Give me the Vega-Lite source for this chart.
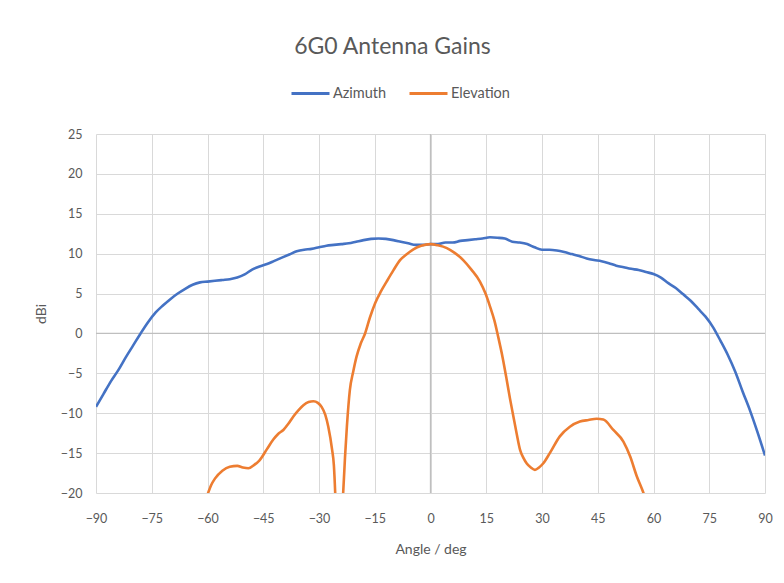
{
  "$schema": "https://vega.github.io/schema/vega-lite/v6.json",
  "width": 669,
  "height": 359,
  "autosize": {"type": "none"},
  "padding": {"left": 96, "top": 134, "right": 19, "bottom": 90},
  "background": "white",
  "config": {
    "font": "Lato",
    "view": {"stroke": null},
    "axisX": {"domain": false, "ticks": false, "labelFlush": false, "labelPadding": 19, "labelFontSize": 12.5, "labelColor": "#595959", "gridColor": "#d9d9d9", "gridWidth": 1, "titleFontSize": 14, "titleFontWeight": "normal", "titleColor": "#595959", "titlePadding": 18},
    "axisY": {"domain": false, "ticks": false, "labelFlush": false, "labelPadding": 14, "labelFontSize": 12.5, "labelColor": "#595959", "gridColor": "#d9d9d9", "gridWidth": 1, "titleFontSize": 14, "titleFontWeight": "normal", "titleColor": "#595959", "titlePadding": 12}
  },
  "title": {"text": "6G0 Antenna Gains", "fontSize": 23, "fontWeight": "normal", "color": "#595959", "dx": -38, "offset": 14, "anchor": "middle"},
  "layer": [
    {
      "data": {"values": [{}]},
      "mark": {"type": "rule", "color": "#bfbfbf", "strokeWidth": 1.3},
      "encoding": {"x": {"datum": 0, "type": "quantitative", "scale": {"domain": [-90, 90], "nice": false, "zero": false},
        "axis": {"values": [-90, -75, -60, -45, -30, -15, 0, 15, 30, 45, 60, 75, 90], "title": "Angle / deg", "grid": true}}}
    },
    {
      "data": {"values": [{}]},
      "mark": {"type": "rule", "color": "#bfbfbf", "strokeWidth": 1.3},
      "encoding": {"y": {"datum": 0, "type": "quantitative", "scale": {"domain": [-20, 25], "nice": false, "zero": false},
        "axis": {"values": [-20, -15, -10, -5, 0, 5, 10, 15, 20, 25], "title": "dBi", "grid": true}}}
    },
    {
      "data": {"values": [
        {"series": "Azimuth", "angle": -90, "gain": -9.2},
        {"series": "Azimuth", "angle": -88, "gain": -7.6},
        {"series": "Azimuth", "angle": -86, "gain": -6.0},
        {"series": "Azimuth", "angle": -84, "gain": -4.6},
        {"series": "Azimuth", "angle": -82, "gain": -3.0},
        {"series": "Azimuth", "angle": -80, "gain": -1.5},
        {"series": "Azimuth", "angle": -78, "gain": 0.0},
        {"series": "Azimuth", "angle": -76, "gain": 1.4},
        {"series": "Azimuth", "angle": -74, "gain": 2.6},
        {"series": "Azimuth", "angle": -72, "gain": 3.5},
        {"series": "Azimuth", "angle": -70, "gain": 4.3},
        {"series": "Azimuth", "angle": -68, "gain": 5.0},
        {"series": "Azimuth", "angle": -66, "gain": 5.6},
        {"series": "Azimuth", "angle": -64, "gain": 6.1},
        {"series": "Azimuth", "angle": -62, "gain": 6.4},
        {"series": "Azimuth", "angle": -60, "gain": 6.5},
        {"series": "Azimuth", "angle": -58, "gain": 6.6},
        {"series": "Azimuth", "angle": -56, "gain": 6.7},
        {"series": "Azimuth", "angle": -54, "gain": 6.8},
        {"series": "Azimuth", "angle": -52, "gain": 7.0},
        {"series": "Azimuth", "angle": -50, "gain": 7.4},
        {"series": "Azimuth", "angle": -48, "gain": 8.0},
        {"series": "Azimuth", "angle": -46, "gain": 8.4},
        {"series": "Azimuth", "angle": -44, "gain": 8.7},
        {"series": "Azimuth", "angle": -42, "gain": 9.1},
        {"series": "Azimuth", "angle": -40, "gain": 9.5},
        {"series": "Azimuth", "angle": -38, "gain": 9.9},
        {"series": "Azimuth", "angle": -36, "gain": 10.3},
        {"series": "Azimuth", "angle": -34, "gain": 10.5},
        {"series": "Azimuth", "angle": -32, "gain": 10.6},
        {"series": "Azimuth", "angle": -30, "gain": 10.8},
        {"series": "Azimuth", "angle": -28, "gain": 11.0},
        {"series": "Azimuth", "angle": -26, "gain": 11.1},
        {"series": "Azimuth", "angle": -24, "gain": 11.2},
        {"series": "Azimuth", "angle": -22, "gain": 11.3},
        {"series": "Azimuth", "angle": -20, "gain": 11.5},
        {"series": "Azimuth", "angle": -18, "gain": 11.7},
        {"series": "Azimuth", "angle": -16, "gain": 11.85},
        {"series": "Azimuth", "angle": -14, "gain": 11.9},
        {"series": "Azimuth", "angle": -12, "gain": 11.85},
        {"series": "Azimuth", "angle": -10, "gain": 11.7},
        {"series": "Azimuth", "angle": -8, "gain": 11.5},
        {"series": "Azimuth", "angle": -6, "gain": 11.3},
        {"series": "Azimuth", "angle": -4, "gain": 11.1},
        {"series": "Azimuth", "angle": -2, "gain": 11.1},
        {"series": "Azimuth", "angle": 0, "gain": 11.2},
        {"series": "Azimuth", "angle": 2, "gain": 11.2},
        {"series": "Azimuth", "angle": 4, "gain": 11.4},
        {"series": "Azimuth", "angle": 6, "gain": 11.4},
        {"series": "Azimuth", "angle": 8, "gain": 11.6},
        {"series": "Azimuth", "angle": 10, "gain": 11.7},
        {"series": "Azimuth", "angle": 12, "gain": 11.8},
        {"series": "Azimuth", "angle": 14, "gain": 11.9},
        {"series": "Azimuth", "angle": 16, "gain": 12.05},
        {"series": "Azimuth", "angle": 18, "gain": 12.0},
        {"series": "Azimuth", "angle": 20, "gain": 11.9},
        {"series": "Azimuth", "angle": 22, "gain": 11.5},
        {"series": "Azimuth", "angle": 24, "gain": 11.4},
        {"series": "Azimuth", "angle": 26, "gain": 11.2},
        {"series": "Azimuth", "angle": 28, "gain": 10.8},
        {"series": "Azimuth", "angle": 30, "gain": 10.5},
        {"series": "Azimuth", "angle": 32, "gain": 10.5},
        {"series": "Azimuth", "angle": 34, "gain": 10.4},
        {"series": "Azimuth", "angle": 36, "gain": 10.2},
        {"series": "Azimuth", "angle": 38, "gain": 9.95},
        {"series": "Azimuth", "angle": 40, "gain": 9.7},
        {"series": "Azimuth", "angle": 42, "gain": 9.4},
        {"series": "Azimuth", "angle": 44, "gain": 9.2},
        {"series": "Azimuth", "angle": 46, "gain": 9.05},
        {"series": "Azimuth", "angle": 48, "gain": 8.8},
        {"series": "Azimuth", "angle": 50, "gain": 8.5},
        {"series": "Azimuth", "angle": 52, "gain": 8.3},
        {"series": "Azimuth", "angle": 54, "gain": 8.1},
        {"series": "Azimuth", "angle": 56, "gain": 7.95},
        {"series": "Azimuth", "angle": 58, "gain": 7.7},
        {"series": "Azimuth", "angle": 60, "gain": 7.45},
        {"series": "Azimuth", "angle": 62, "gain": 7.0},
        {"series": "Azimuth", "angle": 64, "gain": 6.3},
        {"series": "Azimuth", "angle": 66, "gain": 5.7},
        {"series": "Azimuth", "angle": 68, "gain": 4.9},
        {"series": "Azimuth", "angle": 70, "gain": 4.1},
        {"series": "Azimuth", "angle": 72, "gain": 3.1},
        {"series": "Azimuth", "angle": 74, "gain": 2.1},
        {"series": "Azimuth", "angle": 76, "gain": 0.8},
        {"series": "Azimuth", "angle": 78, "gain": -0.9},
        {"series": "Azimuth", "angle": 80, "gain": -2.7},
        {"series": "Azimuth", "angle": 82, "gain": -4.8},
        {"series": "Azimuth", "angle": 84, "gain": -7.3},
        {"series": "Azimuth", "angle": 86, "gain": -9.7},
        {"series": "Azimuth", "angle": 88, "gain": -12.4},
        {"series": "Azimuth", "angle": 90, "gain": -15.3},
        {"series": "Elevation", "angle": -62, "gain": -23},
        {"series": "Elevation", "angle": -60, "gain": -20.2},
        {"series": "Elevation", "angle": -59, "gain": -19.0},
        {"series": "Elevation", "angle": -58, "gain": -18.2},
        {"series": "Elevation", "angle": -56, "gain": -17.2},
        {"series": "Elevation", "angle": -54, "gain": -16.7},
        {"series": "Elevation", "angle": -52, "gain": -16.6},
        {"series": "Elevation", "angle": -50.5, "gain": -16.8},
        {"series": "Elevation", "angle": -49, "gain": -16.9},
        {"series": "Elevation", "angle": -47.5, "gain": -16.5},
        {"series": "Elevation", "angle": -46, "gain": -15.9},
        {"series": "Elevation", "angle": -44, "gain": -14.5},
        {"series": "Elevation", "angle": -42.3, "gain": -13.3},
        {"series": "Elevation", "angle": -41, "gain": -12.6},
        {"series": "Elevation", "angle": -39.6, "gain": -12.1},
        {"series": "Elevation", "angle": -38.2, "gain": -11.3},
        {"series": "Elevation", "angle": -36.9, "gain": -10.4},
        {"series": "Elevation", "angle": -35.5, "gain": -9.6},
        {"series": "Elevation", "angle": -34.2, "gain": -9.0},
        {"series": "Elevation", "angle": -32.8, "gain": -8.6},
        {"series": "Elevation", "angle": -31.5, "gain": -8.5},
        {"series": "Elevation", "angle": -30.3, "gain": -8.7},
        {"series": "Elevation", "angle": -29.3, "gain": -9.2},
        {"series": "Elevation", "angle": -28.3, "gain": -10.2},
        {"series": "Elevation", "angle": -27.5, "gain": -11.7},
        {"series": "Elevation", "angle": -26.5, "gain": -14.5},
        {"series": "Elevation", "angle": -26, "gain": -16.5},
        {"series": "Elevation", "angle": -25.6, "gain": -20.5},
        {"series": "Elevation", "angle": -25, "gain": -30},
        {"series": "Elevation", "angle": -24.2, "gain": -24},
        {"series": "Elevation", "angle": -23.5, "gain": -20},
        {"series": "Elevation", "angle": -23, "gain": -15.5},
        {"series": "Elevation", "angle": -22.5, "gain": -11.7},
        {"series": "Elevation", "angle": -21.7, "gain": -7.1},
        {"series": "Elevation", "angle": -20.8, "gain": -4.8},
        {"series": "Elevation", "angle": -19.9, "gain": -2.9},
        {"series": "Elevation", "angle": -18.8, "gain": -1.3},
        {"series": "Elevation", "angle": -17.6, "gain": 0.0},
        {"series": "Elevation", "angle": -16.3, "gain": 2.0},
        {"series": "Elevation", "angle": -14.9, "gain": 3.8},
        {"series": "Elevation", "angle": -13.3, "gain": 5.3},
        {"series": "Elevation", "angle": -11.8, "gain": 6.5},
        {"series": "Elevation", "angle": -10, "gain": 7.9},
        {"series": "Elevation", "angle": -8.2, "gain": 9.2},
        {"series": "Elevation", "angle": -6.5, "gain": 9.9},
        {"series": "Elevation", "angle": -4.6, "gain": 10.55},
        {"series": "Elevation", "angle": -2.5, "gain": 11.0},
        {"series": "Elevation", "angle": 0, "gain": 11.2},
        {"series": "Elevation", "angle": 2, "gain": 11.05},
        {"series": "Elevation", "angle": 4.4, "gain": 10.7},
        {"series": "Elevation", "angle": 6.5, "gain": 10.1},
        {"series": "Elevation", "angle": 8.8, "gain": 9.2},
        {"series": "Elevation", "angle": 11, "gain": 8.0},
        {"series": "Elevation", "angle": 13.3, "gain": 6.5},
        {"series": "Elevation", "angle": 14.8, "gain": 5.0},
        {"series": "Elevation", "angle": 16, "gain": 3.4},
        {"series": "Elevation", "angle": 17.2, "gain": 1.6},
        {"series": "Elevation", "angle": 18.2, "gain": -0.4},
        {"series": "Elevation", "angle": 19.4, "gain": -3.0},
        {"series": "Elevation", "angle": 20.5, "gain": -5.8},
        {"series": "Elevation", "angle": 21.4, "gain": -8.2},
        {"series": "Elevation", "angle": 22.3, "gain": -10.4},
        {"series": "Elevation", "angle": 23.2, "gain": -12.6},
        {"series": "Elevation", "angle": 24.1, "gain": -14.6},
        {"series": "Elevation", "angle": 25, "gain": -15.6},
        {"series": "Elevation", "angle": 25.9, "gain": -16.3},
        {"series": "Elevation", "angle": 27, "gain": -16.8},
        {"series": "Elevation", "angle": 28.1, "gain": -17.1},
        {"series": "Elevation", "angle": 29.2, "gain": -16.8},
        {"series": "Elevation", "angle": 30.3, "gain": -16.3},
        {"series": "Elevation", "angle": 32.1, "gain": -15.0},
        {"series": "Elevation", "angle": 34.8, "gain": -12.9},
        {"series": "Elevation", "angle": 37.5, "gain": -11.7},
        {"series": "Elevation", "angle": 40.2, "gain": -11.05},
        {"series": "Elevation", "angle": 42.5, "gain": -10.85},
        {"series": "Elevation", "angle": 44.7, "gain": -10.7},
        {"series": "Elevation", "angle": 46.5, "gain": -10.8},
        {"series": "Elevation", "angle": 49.2, "gain": -12.1},
        {"series": "Elevation", "angle": 51.9, "gain": -13.55},
        {"series": "Elevation", "angle": 53.7, "gain": -15.4},
        {"series": "Elevation", "angle": 55.5, "gain": -17.9},
        {"series": "Elevation", "angle": 57.3, "gain": -20.0},
        {"series": "Elevation", "angle": 59, "gain": -22.5}
      ]},
      "mark": {"type": "line", "strokeWidth": 2.6, "clip": true, "interpolate": "monotone"},
      "encoding": {
        "x": {"field": "angle", "type": "quantitative",
          "scale": {"domain": [-90, 90], "nice": false, "zero": false},
          "axis": {"values": [-90, -75, -60, -45, -30, -15, 0, 15, 30, 45, 60, 75, 90], "title": "Angle / deg", "grid": true}},
        "y": {"field": "gain", "type": "quantitative",
          "scale": {"domain": [-20, 25], "nice": false, "zero": false},
          "axis": {"values": [-20, -15, -10, -5, 0, 5, 10, 15, 20, 25], "title": "dBi", "grid": true}},
        "color": {"field": "series", "type": "nominal",
          "scale": {"domain": ["Azimuth", "Elevation"], "range": ["#4472C4", "#ED7D31"]},
          "legend": {"title": null, "orient": "none", "legendX": 194, "legendY": -61, "direction": "horizontal", "symbolType": "stroke", "symbolSize": 1444, "symbolStrokeWidth": 3, "labelFontSize": 14.5, "labelColor": "#595959", "labelOffset": 2, "columnPadding": 16}}
      }
    }
  ]
}
